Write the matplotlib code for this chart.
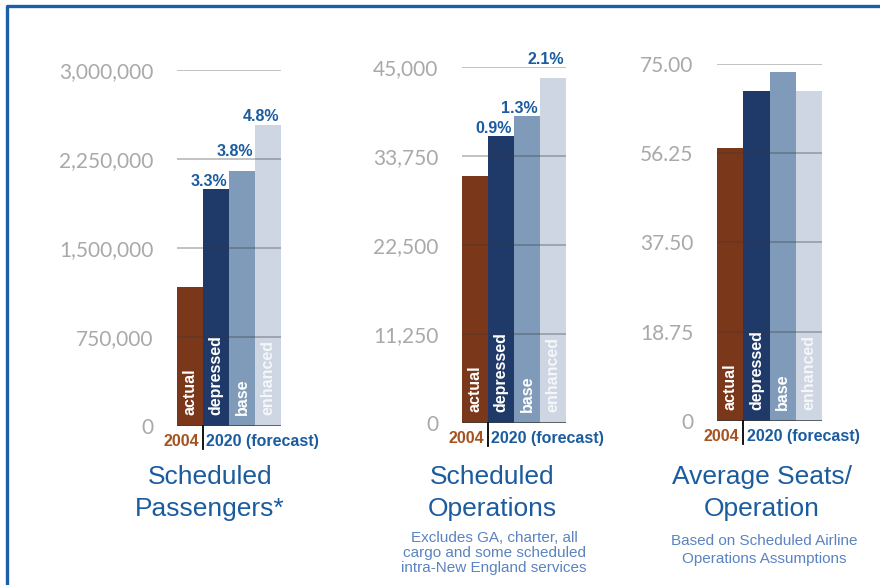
import matplotlib
matplotlib.use('Agg')
import matplotlib.pyplot as plt
from matplotlib.lines import Line2D

plt.rcParams['font.family'] = ['Liberation Sans', 'DejaVu Sans']

W, H = 880, 585

########################################################################
# data

scenarios = ['actual', 'depressed', 'base', 'enhanced']
bar_colors = ['#7b3719', '#1f3a69', '#7f9bb9', '#cdd6e2']
label_alpha = [1.0, 1.0, 1.0, 0.8]

passengers = [1171000, 1997000, 2149000, 2537000]
passenger_growth = ['', '3.3%', '3.8%', '4.8%']
passenger_ticks = [0, 750000, 1500000, 2250000, 3000000]
passenger_ticklabels = ['0', '750,000', '1,500,000', '2,250,000', '3,000,000']

operations = [31220, 36280, 38800, 43610]
operations_growth = ['', '0.9%', '1.3%', '2.1%']
operations_ticks = [0, 11250, 22500, 33750, 45000]
operations_ticklabels = ['0', '11,250', '22,500', '33,750', '45,000']

seats = [57.3, 69.3, 73.3, 69.3]
seats_growth = ['', '', '', '']
seats_ticks = [0, 18.75, 37.5, 56.25, 75]
seats_ticklabels = ['0', '18.75', '37.50', '56.25', '75.00']

titles = ['Scheduled\nPassengers*', 'Scheduled\nOperations', 'Average Seats/\nOperation']
notes = ['',
         'Excludes GA, charter, all\ncargo and some scheduled\nintra-New England services',
         'Based on Scheduled Airline\nOperations Assumptions']
year_actual = '2004'
year_forecast = '2020 (forecast)'

########################################################################

blue = '#1b5c9f'
brown = '#a4531f'
light_blue = '#5a83c0'
grey = '#a9a9a9'

fig = plt.figure(figsize=(W / 100, H / 100), dpi=100)


def draw_panel(rect, values, growth, ticks, ticklabels):
    left, right, base, top = rect
    hpx = base - top
    ax = fig.add_axes([left / W, 1 - base / H, (right - left) / W, hpx / H])
    n = len(values)
    ax.bar(range(n), values, width=1.0, align='edge', color=bar_colors, zorder=2)
    ax.set_xlim(0, n)
    ax.set_ylim(0, ticks[-1])

    for t in ticks[1:]:
        ax.axhline(t, color='#383838', alpha=0.33, lw=1.3, zorder=3)
    ax.axhline(0, color='#3c3c3c', lw=1.8, zorder=4)

    ax.set_yticks(ticks, ticklabels)
    ax.tick_params(axis='y', length=0, pad=17, labelsize=15, labelcolor=grey)
    for lab in ax.get_yticklabels():
        lab.set_fontfamily('Lato')
    ax.set_xticks([])
    for s in ax.spines.values():
        s.set_visible(False)
    ax.patch.set_alpha(0)

    # names inside the bars
    for i, name in enumerate(scenarios):
        ax.annotate(name, xy=(i + 0.5, 0), xytext=(0, 8), textcoords='offset points',
                    rotation=90, ha='center', va='bottom', color='white',
                    alpha=label_alpha[i], fontsize=11.5, fontweight='bold', zorder=5)

    # growth rates above bars, lifted onto a gridline if they would cross it
    step = ticks[1]
    for i, (v, g) in enumerate(zip(values, growth)):
        if not g:
            continue
        y = v
        for t in ticks:
            if v < t < v + 0.14 * step:
                y = t
        ax.annotate(g, xy=(i + 1, y), xytext=(-1.5, 2.5), textcoords='offset points',
                    ha='right', va='baseline', color=blue, fontsize=11.5,
                    fontweight='bold', annotation_clip=False)

    # year labels under the axis
    xt = ax.get_xaxis_transform()
    ax.plot([1, 1], [0, -23 / hpx], transform=xt, color='black', lw=1.3,
            clip_on=False, zorder=5)
    ax.annotate(year_actual, xy=(1, 0), xycoords=xt, xytext=(-3, -11),
                textcoords='offset points', ha='right', va='center',
                color=brown, fontsize=11.5, fontweight='bold')
    ax.annotate(year_forecast, xy=(1, 0), xycoords=xt, xytext=(2.5, -11),
                textcoords='offset points', ha='left', va='center',
                color=blue, fontsize=11.5, fontweight='bold')
    return ax


draw_panel((177, 281, 426, 70), passengers, passenger_growth,
           passenger_ticks, passenger_ticklabels)
draw_panel((462, 566, 423, 67), operations, operations_growth,
           operations_ticks, operations_ticklabels)
draw_panel((717, 822, 421, 64), seats, seats_growth,
           seats_ticks, seats_ticklabels)

title_x = [210, 492, 762]
note_y = [531, 531, 534]
note_spacing = [1.0, 1.08, 1.36]
for i in range(3):
    fig.text(title_x[i] / W, 1 - 465 / H, titles[i], ha='center', va='top',
             fontsize=19, color=blue, linespacing=1.42)
    if notes[i]:
        fig.text((title_x[i] + 2) / W, 1 - note_y[i] / H, notes[i], ha='center', va='top',
                 fontsize=11, color=light_blue, linespacing=note_spacing[i])

# frame along the top and left
fig.add_artist(Line2D([7 / W, 7 / W, 1], [0, 1 - 5.5 / H, 1 - 5.5 / H],
                      transform=fig.transFigure, color='#1c5fa8', lw=2.4))

fig.savefig('out.png', dpi=100)
